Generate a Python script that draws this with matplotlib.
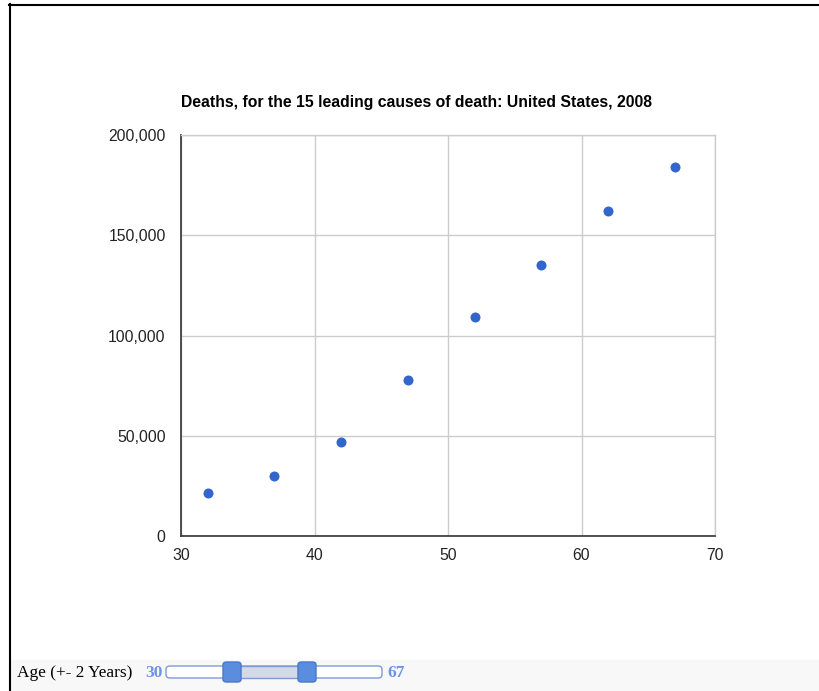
import matplotlib
matplotlib.use("Agg")
import matplotlib.pyplot as plt
from matplotlib.lines import Line2D
from matplotlib.patches import FancyBboxPatch, Rectangle
from matplotlib.ticker import FuncFormatter

plt.rcParams["font.family"] = ["Liberation Sans", "DejaVu Sans"]

W, H = 819, 691

age = [32, 37, 42, 47, 52, 57, 62, 67]
deaths = [21650, 30000, 46700, 77650, 109350, 135000, 161850, 183850]

x_ticks = [30, 40, 50, 60, 70]
y_ticks = [0, 50000, 100000, 150000, 200000]

title = "Deaths, for the 15 leading causes of death: United States, 2008"
slider_label = "Age (+- 2 Years)"
slider_min, slider_max = 30, 67


def fx(px):
    return px / W


def fy(py):
    return 1 - py / H


fig = plt.figure(figsize=(W / 100, H / 100), dpi=100)
fig.patch.set_facecolor("white")

ax = fig.add_axes([fx(181), fy(536), fx(715) - fx(181), fy(135) - fy(536)])
ax.scatter(age, deaths, s=52, color="#3366cc", zorder=3, linewidths=0)
ax.set_xlim(30, 70)
ax.set_ylim(0, 200000)
ax.set_xticks(x_ticks)
ax.set_yticks(y_ticks)
ax.yaxis.set_major_formatter(FuncFormatter(lambda v, p: f"{int(v):,}"))
ax.grid(True, color="#cccccc", linewidth=1)
ax.set_axisbelow(True)
ax.tick_params(length=0, labelsize=11.3, colors="#222222", pad=11)
ax.tick_params(axis="x", pad=9)
for side in ["top", "right"]:
    ax.spines[side].set_color("#cccccc")
    ax.spines[side].set_linewidth(1)
for side in ["left", "bottom"]:
    ax.spines[side].set_color("#333333")
    ax.spines[side].set_linewidth(1.2)

fig.text(fx(181), fy(102), title, fontsize=11.3, fontweight="bold",
         color="black", ha="left", va="center")

# page frame
fig.add_artist(Rectangle((fx(10), 0), 1 - fx(10), fy(660), color="#f8f8f8",
                         transform=fig.transFigure, zorder=0))
fig.add_artist(Line2D([fx(9), 1], [fy(4.5), fy(4.5)], color="black", lw=1.5))
fig.add_artist(Line2D([fx(9.5), fx(9.5)], [fy(4), 0], color="black", lw=1.5))

# slider control
serif = ["Liberation Serif", "DejaVu Serif"]
fig.text(fx(17), fy(673), slider_label, fontsize=12.4, family=serif,
         ha="left", va="center")
fig.text(fx(145), fy(673), str(slider_min), fontsize=12.5, fontweight="bold",
         family=serif, color="#6d94e0", ha="left", va="center")
fig.text(fx(387), fy(673), str(slider_max), fontsize=12.5, fontweight="bold",
         family=serif, color="#6d94e0", ha="left", va="center")
fig.add_artist(FancyBboxPatch((fx(166), fy(678)), fx(382) - fx(166), fy(666) - fy(678),
                              boxstyle="round,pad=0,rounding_size=0.005",
                              facecolor="white", edgecolor="#7d9ad6", lw=1,
                              transform=fig.transFigure))
fig.add_artist(Rectangle((fx(240), fy(678)), fx(300) - fx(240), fy(666) - fy(678),
                         facecolor="#d3d9e8", edgecolor="#7d9ad6", lw=1,
                         transform=fig.transFigure))
for hx in [232, 307]:
    fig.add_artist(FancyBboxPatch((fx(hx - 9), fy(682)), fx(18), fy(662) - fy(682),
                                  boxstyle="round,pad=0,rounding_size=0.004",
                                  facecolor="#5b8ddf", edgecolor="#4a78c8", lw=1,
                                  transform=fig.transFigure))

fig.savefig("out.png", dpi=100)
